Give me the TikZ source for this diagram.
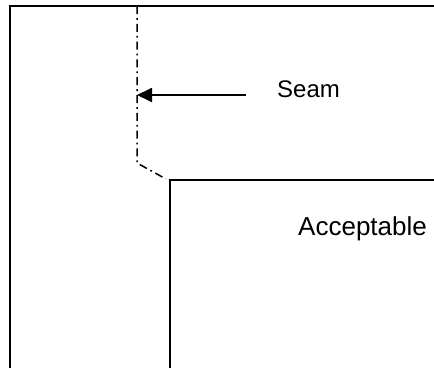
\documentclass[tikz,border=0pt]{standalone}
\usepackage{fontspec}
\setmainfont{Liberation Sans}
\usetikzlibrary{arrows.meta}
\tikzset{
  wall/.style={line width=1.8pt},
  seamline/.style={line width=1.5pt, dash pattern=on 8pt off 4pt on 1.8pt off 4pt},
  label/.style={inner sep=0pt, font=\fontsize{24}{28}\selectfont}
}
\begin{document}
\begin{tikzpicture}[x=1pt, y=-1pt]
		\useasboundingbox (0, 0) rectangle (434, 368);

		% Outer corner
		\draw[wall] (10, 368) -- (10, 6) -- (434, 6);

		% Acceptable region
		\draw[wall] (170, 368) -- (170, 180) -- (434, 180);

		% Seam
		\coordinate (seamtop) at (137, 6);
		\coordinate (seamknee) at (137, 163);
		\coordinate (seamend) at (166, 179);
		\coordinate (seampt) at (137, 95);
		\draw[seamline] (seamtop) -- (seamknee) -- (seamend);

		\node[label, anchor=base west] (seamlabel) at (277, 97) {Seam};
		\coordinate (arrowtail) at (246, 95);
		\draw[line width=1.8pt, -{Triangle[length=15pt, width=14pt]}] (arrowtail) -- (seampt);

		\node[label, font=\fontsize{26}{30}\selectfont, anchor=base west] (accept) at (298, 235) {Acceptable};
	\end{tikzpicture}
\end{document}
